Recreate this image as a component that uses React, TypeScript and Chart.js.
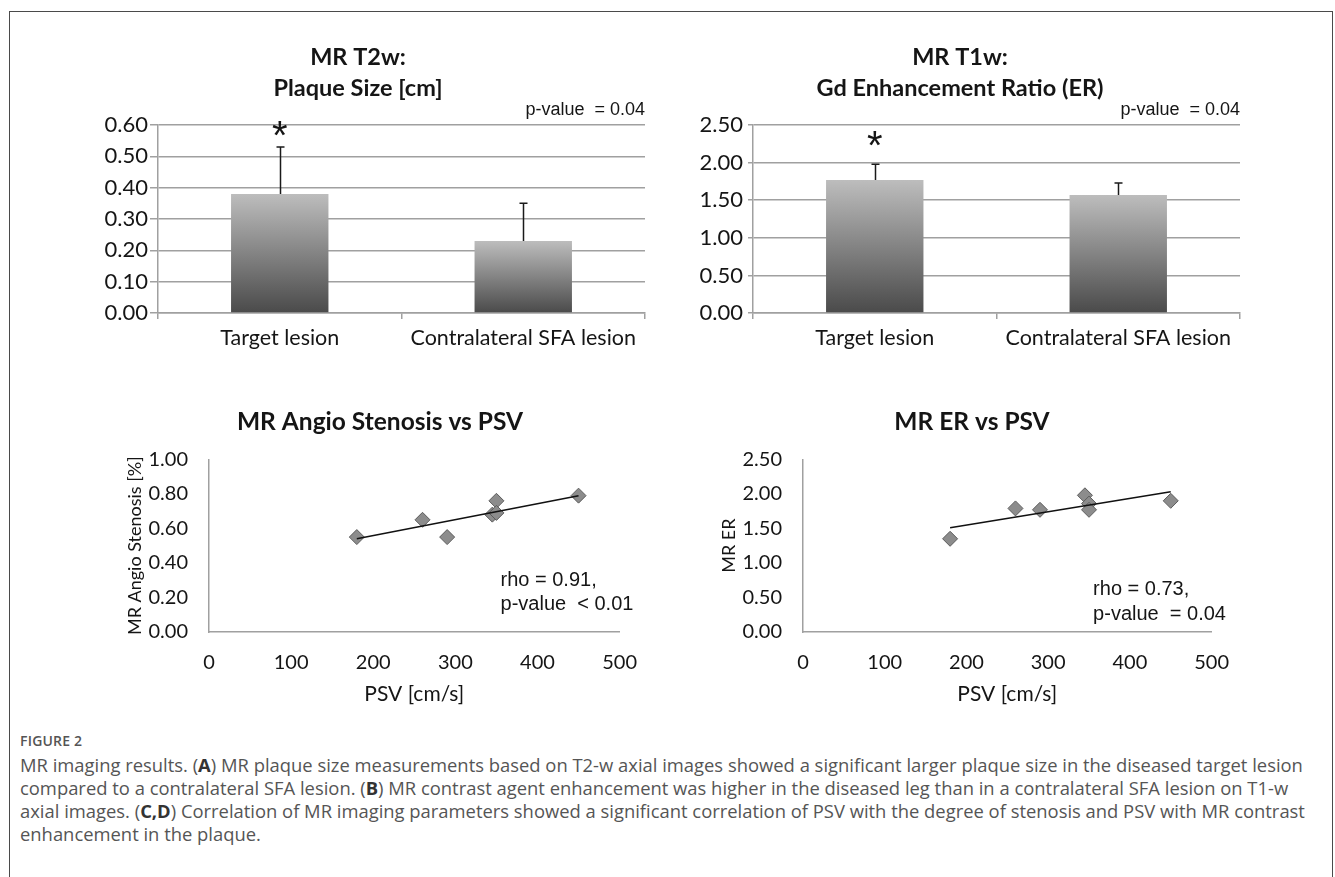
import React, { useEffect, useRef } from 'react';
import { Chart, registerables } from 'chart.js';

Chart.register(...registerables);

// ---------- data ----------
const barCategories = ['Target lesion', 'Contralateral SFA lesion'];
const plaqueSizeMeans = [0.38, 0.23];
const plaqueSizeUpper = [0.53, 0.35];
const plaqueTickMax = 0.6;
const plaqueTickStep = 0.1;

const enhancementMeans = [1.77, 1.57];
const enhancementUpper = [1.98, 1.73];
const enhancementTickMax = 2.5;
const enhancementTickStep = 0.5;

const psvStenosis = [180, 260, 290, 345, 350, 350, 450];
const stenosisValues = [0.55, 0.65, 0.55, 0.68, 0.76, 0.69, 0.79];
const psvEr = [180, 260, 290, 345, 350, 350, 450];
const erValues = [1.35, 1.79, 1.77, 1.98, 1.86, 1.77, 1.9];
const trendPsv = [180, 450];
const stenosisTrend = [0.54, 0.79];
const erTrend = [1.51, 2.03];
const psvTickMax = 500;
const psvTickStep = 100;
const stenosisTickMax = 1.0;
const stenosisTickStep = 0.2;
const erTickMax = 2.5;
const erTickStep = 0.5;

const FONT = 'Lato';
const TXT = '#151515';
const AXIS = '#a0a0a0';

// ---------- plugins ----------
const barAnnot = {
  id: 'barAnnot',
  afterDatasetsDraw(chart: any, _args: any, opts: any) {
    const meta = chart.getDatasetMeta(0);
    const y = chart.scales.y;
    const c = chart.ctx;
    c.save();
    c.strokeStyle = '#1a1a1a';
    c.lineWidth = 1.5;
    meta.data.forEach((bar: any, i: number) => {
      const x = Math.round(bar.x) + 0.5;
      const yb = y.getPixelForValue(opts.means[i]);
      const yt = y.getPixelForValue(opts.upper[i]);
      c.beginPath();
      c.moveTo(x, yb);
      c.lineTo(x, yt);
      c.moveTo(x - 4, yt);
      c.lineTo(x + 4, yt);
      c.stroke();
    });
    c.fillStyle = TXT;
    c.textAlign = 'center';
    c.textBaseline = 'alphabetic';
    c.font = '40px "Liberation Sans"';
    c.fillText('*', meta.data[0].x, y.getPixelForValue(opts.asteriskValue) + 24);
    c.font = '18px "Liberation Sans"';
    c.textAlign = 'right';
    c.textBaseline = 'middle';
    c.fillText(opts.pText, chart.chartArea.right, chart.chartArea.top - 15);
    c.restore();
  },
};

const scatterAnnot = {
  id: 'scatterAnnot',
  afterDatasetsDraw(chart: any, _args: any, opts: any) {
    const c = chart.ctx;
    const xs = chart.scales.x;
    const ys = chart.scales.y;
    c.save();
    c.fillStyle = TXT;
    c.font = '20px "Liberation Sans"';
    c.textAlign = 'left';
    c.textBaseline = 'middle';
    opts.lines.forEach((t: string, i: number) => {
      c.fillText(t, xs.getPixelForValue(opts.x), ys.getPixelForValue(opts.ys[i]));
    });
    c.restore();
  },
};

function barGradient(ctx: any) {
  const chart = ctx.chart;
  if (!chart.chartArea || typeof ctx.raw !== 'number') return '#888';
  const y = chart.scales.y;
  const top = y.getPixelForValue(ctx.raw);
  const bot = y.getPixelForValue(0);
  const g = chart.ctx.createLinearGradient(0, top, 0, bot);
  g.addColorStop(0, '#bdbdbd');
  g.addColorStop(1, '#4a4a4a');
  return g;
}

function barConfig(p: any) {
  return {
    type: 'bar',
    data: {
      labels: barCategories,
      datasets: [
        {
          data: p.means,
          backgroundColor: barGradient,
          borderWidth: 0,
          barPercentage: 0.4,
          categoryPercentage: 1,
        },
      ],
    },
    options: {
      animation: false,
      responsive: false,
      maintainAspectRatio: false,
      layout: { padding: { left: p.padLeft, right: p.padRight, top: 0, bottom: 0 } },
      plugins: {
        legend: { display: false },
        tooltip: { enabled: false },
        title: {
          display: true,
          text: p.title,
          color: TXT,
          font: { family: FONT, size: 23.5, weight: 'bold', lineHeight: 1.32 },
          padding: { top: 12, bottom: 21 },
        },
        barAnnot: { means: p.means, upper: p.upper, asteriskValue: p.asteriskValue, pText: 'p-value  = 0.04' },
      },
      scales: {
        x: {
          grid: { offset: true, drawOnChartArea: false, drawTicks: true, tickLength: 6, color: AXIS, lineWidth: 1.5 },
          border: { color: AXIS, width: 1.5 },
          ticks: { color: TXT, font: { family: FONT, size: 21.5 }, padding: 6, maxRotation: 0 },
          afterFit: (s: any) => { s.height = 45; },
        },
        y: {
          min: 0,
          max: p.max,
          ticks: {
            stepSize: p.step,
            color: TXT,
            font: { family: FONT, size: 22 },
            padding: p.tickPad,
            callback: (v: any) => Number(v).toFixed(2),
          },
          grid: { color: AXIS, lineWidth: 1.5, tickLength: p.tickLen },
          border: { color: AXIS, width: 1.5 },
          afterFit: (s: any) => { s.width = p.yWidth; },
        },
      },
    },
    plugins: [barAnnot],
  };
}

function scatterConfig(p: any) {
  return {
    type: 'scatter',
    data: {
      datasets: [
        {
          type: 'line',
          data: trendPsv.map((x, i) => ({ x, y: p.trend[i] })),
          borderColor: '#111',
          borderWidth: 1.5,
          pointRadius: 0,
          fill: false,
          order: 0,
        },
        {
          data: p.xs.map((x: number, i: number) => ({ x, y: p.ys[i] })),
          pointStyle: 'rectRot',
          pointRadius: 7.5,
          backgroundColor: '#8c8c8c',
          borderColor: '#5c5c5c',
          borderWidth: 1,
          order: 1,
        },
      ],
    },
    options: {
      animation: false,
      responsive: false,
      maintainAspectRatio: false,
      layout: { padding: { left: 26, right: 26, top: 0, bottom: 0 } },
      plugins: {
        legend: { display: false },
        tooltip: { enabled: false },
        title: {
          display: true,
          text: p.title,
          color: TXT,
          font: { family: FONT, size: 24.5, weight: 'bold', lineHeight: 1.2 },
          padding: { top: 12, bottom: 23 },
        },
        scatterAnnot: { x: 355, ys: p.annotYs, lines: p.annotLines },
      },
      scales: {
        x: {
          type: 'linear',
          min: 0,
          max: psvTickMax,
          ticks: { stepSize: psvTickStep, color: TXT, font: { family: FONT, size: 20 }, padding: 19 },
          grid: { display: false, drawTicks: false },
          border: { color: AXIS, width: 1.5 },
          title: {
            display: true,
            text: 'PSV [cm/s]',
            color: TXT,
            font: { family: FONT, size: 21 },
            padding: { top: 0, bottom: 8 },
          },
          afterFit: (s: any) => { s.height = 83; },
        },
        y: {
          min: 0,
          max: p.max,
          ticks: {
            stepSize: p.step,
            color: TXT,
            font: { family: FONT, size: 20 },
            padding: p.tickPad,
            callback: (v: any) => Number(v).toFixed(2),
          },
          grid: { display: false, drawTicks: false },
          border: { color: AXIS, width: 1.5 },
          title: {
            display: true,
            text: p.yTitle,
            color: TXT,
            font: { family: FONT, size: 18 },
            padding: { top: p.yTitlePad, bottom: 0 },
          },
          afterFit: (s: any) => { s.width = p.yWidth; },
        },
      },
    },
    plugins: [scatterAnnot],
  };
}

function ChartBox({ left, top, width, height, config }: any) {
  const ref = useRef<HTMLCanvasElement | null>(null);
  useEffect(() => {
    if (!ref.current) return;
    const chart = new Chart(ref.current, config);
    return () => chart.destroy();
  }, []);
  return (
    <canvas
      ref={ref}
      width={width}
      height={height}
      style={{ position: 'absolute', left, top, width, height }}
    />
  );
}

const captionLines = [
  [
    'MR imaging results. (',
    'A',
    ') MR plaque size measurements based on T2-w axial images showed a significant larger plaque size in the diseased target lesion',
  ],
  [
    'compared to a contralateral SFA lesion. (',
    'B',
    ') MR contrast agent enhancement was higher in the diseased leg than in a contralateral SFA lesion on T1-w',
  ],
  [
    'axial images. (',
    'C,D',
    ') Correlation of MR imaging parameters showed a significant correlation of PSV with the degree of stenosis and PSV with MR contrast',
  ],
  ['enhancement in the plaque.', '', ''],
];

export default function App() {
  return (
    <div
      style={{
        position: 'absolute',
        left: 0,
        top: 0,
        width: 1335,
        height: 877,
        overflow: 'hidden',
        background: '#fff',
      }}
    >
      <div
        style={{
          position: 'absolute',
          left: 9,
          top: 11,
          width: 1322,
          height: 900,
          borderLeft: '1.5px solid #4a4a4a',
          borderTop: '1.5px solid #4a4a4a',
          borderRight: '1.5px solid #4a4a4a',
        }}
      />
      <ChartBox
        left={46}
        top={30}
        width={624}
        height={328}
        config={barConfig({
          title: ['MR T2w:', 'Plaque Size [cm]'],
          means: plaqueSizeMeans,
          upper: plaqueSizeUpper,
          max: plaqueTickMax,
          step: plaqueTickStep,
          asteriskValue: 0.6,
          padLeft: 25,
          padRight: 25,
          yWidth: 87,
          tickPad: 2,
          tickLen: 8,
        })}
      />
      <ChartBox
        left={655}
        top={30}
        width={610}
        height={328}
        config={barConfig({
          title: ['MR T1w:', 'Gd Enhancement Ratio (ER)'],
          means: enhancementMeans,
          upper: enhancementUpper,
          max: enhancementTickMax,
          step: enhancementTickStep,
          asteriskValue: 2.37,
          padLeft: 25,
          padRight: 25,
          yWidth: 73,
          tickPad: 5,
          tickLen: 5,
        })}
      />
      <ChartBox
        left={104}
        top={395}
        width={552}
        height={320}
        config={scatterConfig({
          title: 'MR Angio Stenosis vs PSV',
          xs: psvStenosis,
          ys: stenosisValues,
          trend: stenosisTrend,
          max: stenosisTickMax,
          step: stenosisTickStep,
          yTitle: 'MR Angio Stenosis [%]',
          yTitlePad: -6,
          yWidth: 79,
          tickPad: 21,
          annotYs: [0.3, 0.16],
          annotLines: ['rho = 0.91,', 'p-value  < 0.01'],
        })}
      />
      <ChartBox
        left={696}
        top={395}
        width={552}
        height={320}
        config={scatterConfig({
          title: 'MR ER vs PSV',
          xs: psvEr,
          ys: erValues,
          trend: erTrend,
          max: erTickMax,
          step: erTickStep,
          yTitle: 'MR ER',
          yTitlePad: -4,
          yWidth: 81,
          tickPad: 21,
          annotYs: [0.61, 0.26],
          annotLines: ['rho = 0.73,', 'p-value  = 0.04'],
        })}
      />
      <div
        style={{
          position: 'absolute',
          left: 20,
          top: 731,
          fontFamily: '"Open Sans", sans-serif',
          fontSize: 14,
          fontWeight: 600,
          color: '#555',
          letterSpacing: 0.2,
        }}
      >
        FIGURE 2
      </div>
      {captionLines.map((l, i) => (
        <div
          key={i}
          style={{
            position: 'absolute',
            left: 20,
            top: 753 + i * 23,
            whiteSpace: 'nowrap',
            fontFamily: '"Open Sans", sans-serif',
            fontSize: 18.4,
            lineHeight: '23px',
            color: '#555',
          }}
        >
          {l[0]}
          {l[1] ? <b style={{ color: '#333' }}>{l[1]}</b> : null}
          {l[2]}
        </div>
      ))}
    </div>
  );
}
